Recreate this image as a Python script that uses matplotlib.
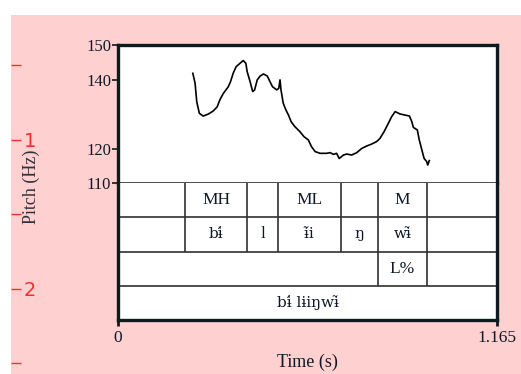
"""Pitch track with tone / segment / boundary tiers."""

import matplotlib
matplotlib.use("Agg")
import matplotlib.pyplot as plt
from matplotlib.patches import Rectangle

SERIF = ["Liberation Serif", "DejaVu Serif"]
IPA = ["DejaVu Serif"]
INK = "#101828"
PINK = "#ffd0d0"

# pitch contour (s, Hz)
time_s = [0.230, 0.237, 0.242, 0.250, 0.262, 0.278, 0.293, 0.305, 0.313, 0.324,
          0.339, 0.346, 0.354, 0.363, 0.375, 0.385, 0.393, 0.397, 0.406, 0.414,
          0.420, 0.428, 0.437, 0.447, 0.459, 0.467, 0.475, 0.488, 0.494, 0.498,
          0.501, 0.508, 0.516, 0.524, 0.532, 0.544, 0.559, 0.572, 0.585, 0.595,
          0.606, 0.621, 0.641, 0.652, 0.662, 0.672, 0.680, 0.693, 0.703, 0.718,
          0.734, 0.749, 0.764, 0.780, 0.795, 0.805, 0.818, 0.831, 0.841, 0.852,
          0.867, 0.882, 0.896, 0.903, 0.908, 0.920, 0.926, 0.934, 0.941, 0.949,
          0.952, 0.957]
pitch_hz = [141.8, 138.9, 133.6, 130.2, 129.4, 130.0, 130.9, 132.1, 134.1, 136.0,
            137.9, 139.4, 141.8, 143.7, 144.7, 145.5, 144.7, 142.3, 139.4, 136.5,
            137.0, 139.9, 141.0, 141.6, 141.0, 139.4, 137.9, 137.0, 137.4, 139.9,
            137.0, 133.1, 131.2, 129.7, 127.8, 126.3, 124.9, 123.4, 122.5, 120.5,
            119.1, 118.6, 118.6, 118.8, 118.3, 118.6, 117.1, 118.1, 118.4, 118.1,
            118.8, 120.0, 120.7, 121.3, 122.0, 122.9, 124.9, 127.3, 129.2, 130.7,
            130.0, 129.7, 129.4, 127.8, 126.1, 125.4, 122.5, 119.6, 117.1, 116.2,
            115.2, 116.5]

duration = 1.165
pitch_ticks = [110, 120, 140, 150]

# interval tiers: boundaries and labels between them
tone_bounds = [0.206, 0.397, 0.492, 0.686, 0.799, 0.950]
tone_labels = ["MH", "", "ML", "", "M"]
seg_bounds = [0.206, 0.397, 0.492, 0.686, 0.799, 0.950]
seg_labels = ["bɨ́", "l", "ɨ̃i", "ŋ", "wɨ̃"]
bnd_bounds = [0.799, 0.950]
bnd_labels = ["L%"]
word_bounds = [0.0, duration]
word_labels = ["bɨ́ lɨiŋwɨ̃"]
tiers = [(tone_bounds, tone_labels), (seg_bounds, seg_labels),
         (bnd_bounds, bnd_labels), (word_bounds, word_labels)]

# secondary red scale on the far left
red_ticks = [0.5, 1.0, 1.5, 2.0, 2.5]
red_labels = ["", "1", "", "2", ""]

W, H = 521, 374
fig = plt.figure(figsize=(W / 100, H / 100), dpi=100, facecolor="white")
fig.patches.append(Rectangle((11 / W, 0), 1, 1 - 15 / H, transform=fig.transFigure,
                             facecolor=PINK, edgecolor="none", zorder=-1))

left, right = 118 / W, 497 / W
y_top, y_mid, y_bot = 1 - 45 / H, 1 - 183 / H, 1 - 320 / H
frame_lw = 2.4
frame_col = "#0c1c1c"

# pitch panel
ax = fig.add_axes([left, y_mid, right - left, y_top - y_mid])
ax.plot(time_s, pitch_hz, color="black", lw=1.2)
ax.set_xlim(0, duration)
ax.set_ylim(110, 150)
ax.set_yticks(pitch_ticks)
ax.set_yticklabels([str(v) for v in pitch_ticks], family=SERIF, fontsize=12, color=INK)
ax.set_xticks([])
ax.tick_params(axis="y", direction="out", length=4, width=1.2, pad=1, color=frame_col)
for side in ("left", "top", "right"):
    ax.spines[side].set_linewidth(frame_lw)
    ax.spines[side].set_color(frame_col)
ax.spines["bottom"].set_linewidth(1.2)
ax.spines["bottom"].set_color("#303030")

# tier panel
tx = fig.add_axes([left, y_bot, right - left, y_mid - y_bot])
tx.set_xlim(0, duration)
tx.set_ylim(len(tiers), 0)
tx.set_yticks([])
tx.set_xticks([0, duration])
tx.set_xticklabels(["0", "1.165"], family=SERIF, fontsize=12.5, color=INK)
tx.tick_params(axis="x", direction="out", length=4, width=2, pad=3, color=frame_col)
for side in ("left", "bottom", "right"):
    tx.spines[side].set_linewidth(frame_lw)
    tx.spines[side].set_color(frame_col)
tx.spines["top"].set_visible(False)
tx.hlines(range(1, len(tiers)), 0, duration, color="#303030", lw=1.2)
for row, (bounds, labels) in enumerate(tiers):
    inner = [b for b in bounds if 0 < b < duration]
    tx.vlines(inner, row, row + 1, color="#303030", lw=1.2)
    for a, b, lab in zip(bounds[:-1], bounds[1:], labels):
        if not lab:
            continue
        plain = lab.isascii()
        tx.text((a + b) / 2, row + 0.5, lab, ha="center", va="center",
                family=SERIF if plain else IPA,
                fontsize=12.5 if plain else 11, color=INK)
tx.set_xlabel("Time (s)", family=SERIF, fontsize=13, color=INK, labelpad=6)

fig.text(31 / W, 1 - 187 / H, "Pitch (Hz)", rotation=90, ha="center", va="center",
         family=SERIF, fontsize=13, color="#30303c")

# red scale
rx = fig.add_axes([0, 0, 11 / W, 1])
rx.set_facecolor("none")
for s in rx.spines.values():
    s.set_visible(False)
rx.set_xticks([])
rx.set_ylim(1 + 234 / 149, 1 - 140 / 149)
rx.yaxis.tick_right()
rx.set_yticks(red_ticks)
rx.set_yticklabels(red_labels, fontsize=14, color="#f03030")
rx.tick_params(axis="y", direction="out", length=7, width=1, color="#f03030", pad=2)

fig.savefig("out.png", dpi=100, facecolor="white")
